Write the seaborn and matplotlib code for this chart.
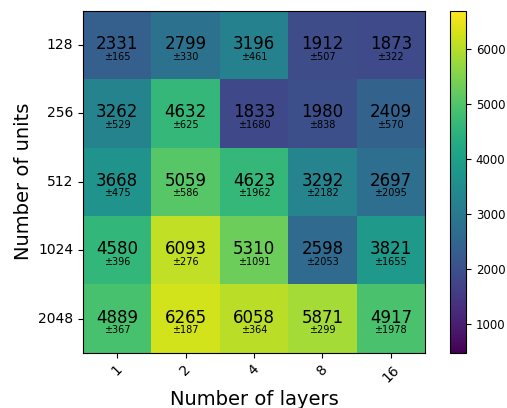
import numpy as np
import pandas as pd
import matplotlib
matplotlib.use("Agg")
import matplotlib.pyplot as plt
import seaborn as sns

layers = ["1", "2", "4", "8", "16"]
units = ["128", "256", "512", "1024", "2048"]

mean_128 = [2331, 2799, 3196, 1912, 1873]
mean_256 = [3262, 4632, 1833, 1980, 2409]
mean_512 = [3668, 5059, 4623, 3292, 2697]
mean_1024 = [4580, 6093, 5310, 2598, 3821]
mean_2048 = [4889, 6265, 6058, 5871, 4917]

std_128 = [165, 330, 461, 507, 322]
std_256 = [529, 625, 1680, 838, 570]
std_512 = [475, 586, 1962, 2182, 2095]
std_1024 = [396, 276, 1091, 2053, 1655]
std_2048 = [367, 187, 364, 299, 1978]

means = pd.DataFrame([mean_128, mean_256, mean_512, mean_1024, mean_2048],
                     index=units, columns=layers)
stds = pd.DataFrame([std_128, std_256, std_512, std_1024, std_2048],
                    index=units, columns=layers)

fig = plt.figure(figsize=(5.07, 4.08), dpi=100)
ax = fig.add_axes([0.1637, 0.1355, 0.6746, 0.838])
cax = fig.add_axes([0.8876, 0.1355, 0.0316, 0.838])

sns.heatmap(means, ax=ax, cbar_ax=cax, cmap="viridis", vmin=480, vmax=6700,
            annot=False, square=False, linewidths=0)

for i in range(len(units)):
    for j in range(len(layers)):
        ax.text(j + 0.5, i + 0.56, f"{means.iloc[i, j]}", ha="center", va="baseline",
                fontsize=12, color="black")
        ax.text(j + 0.5, i + 0.715, f"±{stds.iloc[i, j]}", ha="center", va="baseline",
                fontsize=7, color="black")

for s in ax.spines.values():
    s.set_visible(True)
    s.set_color("black")
    s.set_linewidth(0.8)

ax.set_xticklabels(layers, rotation=45, fontsize=10)
ax.set_yticklabels(units, rotation=0, fontsize=10)
ax.tick_params(axis="both", length=3.5, width=0.8, color="black")
ax.set_xlabel("Number of layers", fontsize=14)
ax.set_ylabel("Number of units", fontsize=14)

cbar = ax.collections[0].colorbar
cbar.set_ticks([1000, 2000, 3000, 4000, 5000, 6000])
cbar.ax.tick_params(labelsize=8.5, length=3.5, width=0.8)
cbar.outline.set_visible(True)
cbar.outline.set_edgecolor("black")
cbar.outline.set_linewidth(0.8)

fig.savefig("out.png", dpi=100)
